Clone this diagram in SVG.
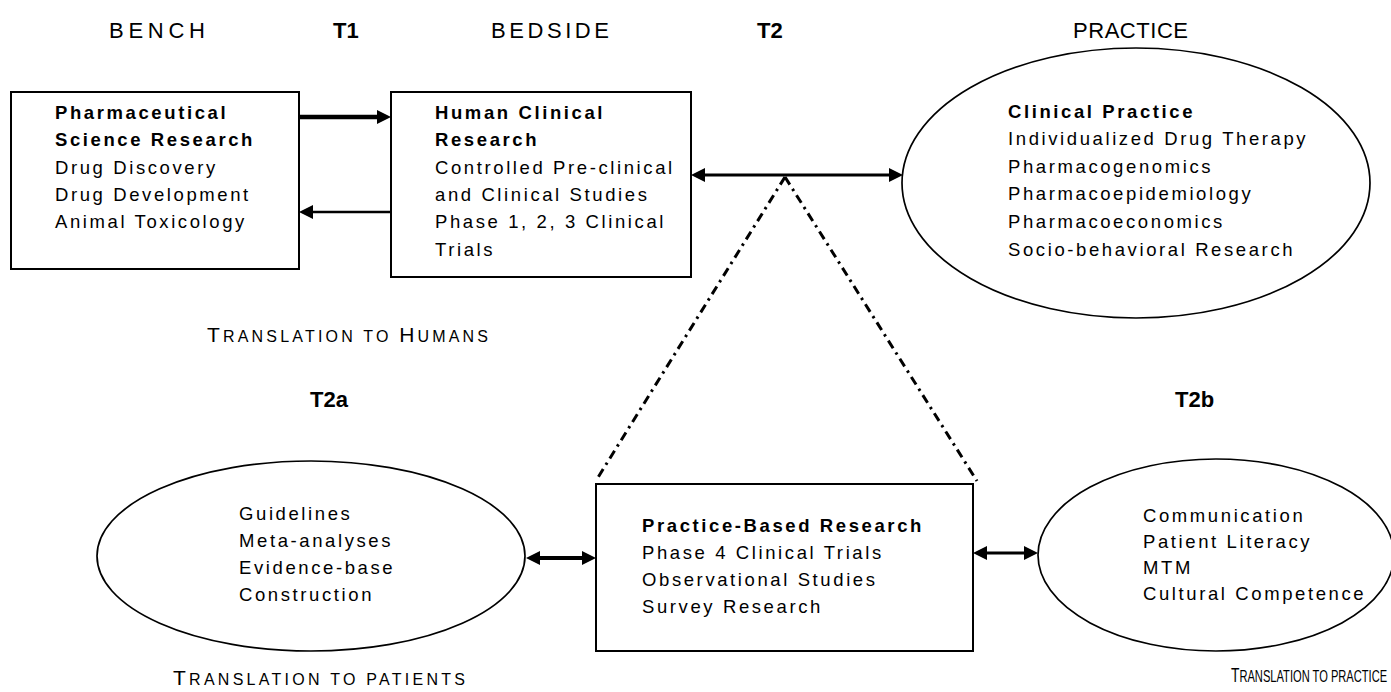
<svg xmlns="http://www.w3.org/2000/svg" width="1391" height="692" viewBox="0 0 1391 692">
<style>
.box{fill:#fff;stroke:#000;stroke-width:2}
.ell{fill:#fff;stroke:#000;stroke-width:1.7}
.t{font-family:"Liberation Sans",Arial,sans-serif;font-size:18.5px;letter-spacing:2.6px;fill:#000}
.b{font-weight:bold}
.hd{font-family:"Liberation Sans",Arial,sans-serif;font-size:22px;fill:#000}
.big{font-size:21px}
.sm{font-size:16px}
.sm17{font-size:17px}
.conn{stroke:#000;fill:none}
.dd{stroke-width:3;stroke-dasharray:9 5 2.5 5}
</style>
<defs>
<marker id="ah" viewBox="0 0 14 14" refX="1" refY="7" markerWidth="14" markerHeight="14" markerUnits="userSpaceOnUse" orient="auto-start-reverse">
<path d="M0,0 L14,7 L0,14 z" fill="#000"/>
</marker>
</defs>
<rect width="1391" height="692" fill="#fff"/>

<g id="headers">
<text class="hd" x="109" y="38" textLength="96" lengthAdjust="spacing">BENCH</text>
<text class="hd b" x="333" y="38">T1</text>
<text class="hd" x="491" y="38" textLength="118" lengthAdjust="spacing">BEDSIDE</text>
<text class="hd b" x="757" y="38">T2</text>
<text class="hd" x="1073" y="38" textLength="115" lengthAdjust="spacing">PRACTICE</text>
<text class="hd b" x="310" y="407">T2a</text>
<text class="hd b" x="1175" y="407">T2b</text>
</g>

<g id="labels">
<text class="hd" x="207" y="342" textLength="281" lengthAdjust="spacing"><tspan class="big">T</tspan><tspan class="sm">RANSLATION TO </tspan><tspan class="big">H</tspan><tspan class="sm">UMANS</tspan></text>
<text class="hd" x="173" y="685" textLength="292" lengthAdjust="spacing"><tspan class="big">T</tspan><tspan class="sm">RANSLATION TO PATIENTS</tspan></text>
<text class="hd" transform="translate(1231,682) scale(0.655,1)" x="0" y="0"><tspan class="big">T</tspan><tspan class="sm17">RANSLATION TO PRACTICE</tspan></text>
</g>

<g id="connectors">
<path class="conn" d="M299,117 H378" stroke-width="4.5" marker-end="url(#ah)"/>
<path class="conn" d="M391,212 H312" stroke-width="2.5" marker-end="url(#ah)"/>
<path class="conn" d="M704,175 H890" stroke-width="3" marker-start="url(#ah)" marker-end="url(#ah)"/>
<path class="conn" d="M539,558 H583" stroke-width="4" marker-start="url(#ah)" marker-end="url(#ah)"/>
<path class="conn" d="M986,553 H1025" stroke-width="3" marker-start="url(#ah)" marker-end="url(#ah)"/>
<path class="conn dd" d="M785,177 L597,479"/>
<path class="conn dd" d="M785,177 L977,481"/>
</g>

<g id="pharmaceutical">
<rect class="box" x="11" y="92" width="288" height="177"/>
<text class="t b" x="55" y="119">Pharmaceutical</text>
<text class="t b" x="55" y="146">Science Research</text>
<text class="t" x="55" y="174">Drug Discovery</text>
<text class="t" x="55" y="201">Drug Development</text>
<text class="t" x="55" y="228">Animal Toxicology</text>
</g>

<g id="human-clinical">
<rect class="box" x="391" y="92" width="300" height="185"/>
<text class="t b" x="435" y="119">Human Clinical</text>
<text class="t b" x="435" y="146">Research</text>
<text class="t" x="435" y="174">Controlled Pre-clinical</text>
<text class="t" x="435" y="201">and Clinical Studies</text>
<text class="t" x="435" y="228">Phase 1, 2, 3 Clinical</text>
<text class="t" x="435" y="256">Trials</text>
</g>

<g id="clinical-practice">
<ellipse class="ell" cx="1136" cy="183" rx="234" ry="135"/>
<text class="t b" x="1008" y="118">Clinical Practice</text>
<text class="t" x="1008" y="145">Individualized Drug Therapy</text>
<text class="t" x="1008" y="173">Pharmacogenomics</text>
<text class="t" x="1008" y="200">Pharmacoepidemiology</text>
<text class="t" x="1008" y="228">Pharmacoeconomics</text>
<text class="t" x="1008" y="256">Socio-behavioral Research</text>
</g>

<g id="practice-based">
<rect class="box" x="596" y="484" width="377" height="167"/>
<text class="t b" x="642" y="532">Practice-Based Research</text>
<text class="t" x="642" y="559">Phase 4 Clinical Trials</text>
<text class="t" x="642" y="586">Observational Studies</text>
<text class="t" x="642" y="613">Survey Research</text>
</g>

<g id="t2a-ellipse">
<ellipse class="ell" cx="311" cy="556" rx="214" ry="95"/>
<text class="t" x="239" y="520">Guidelines</text>
<text class="t" x="239" y="547">Meta-analyses</text>
<text class="t" x="239" y="574">Evidence-base</text>
<text class="t" x="239" y="601">Construction</text>
</g>

<g id="t2b-ellipse">
<ellipse class="ell" cx="1216" cy="555" rx="178" ry="96"/>
<text class="t" x="1143" y="522">Communication</text>
<text class="t" x="1143" y="548">Patient Literacy</text>
<text class="t" x="1143" y="574">MTM</text>
<text class="t" x="1143" y="600">Cultural Competence</text>
</g>
</svg>
